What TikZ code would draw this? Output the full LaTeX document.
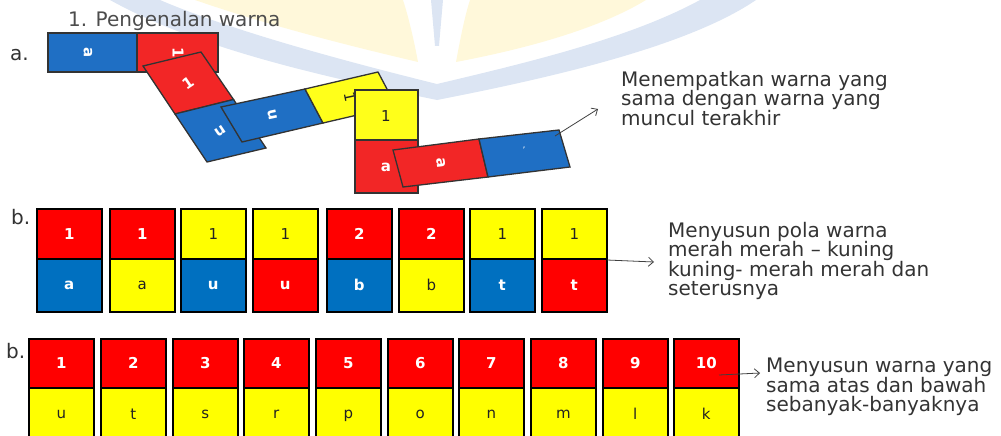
\documentclass[tikz,border=0pt]{standalone}
\usepackage{fontspec}
\setmainfont{DejaVu Sans}
\usetikzlibrary{arrows.meta}
\definecolor{dred}{HTML}{FF0000}
\definecolor{dblue}{HTML}{0070C0}
\definecolor{dyel}{HTML}{FFFF00}
\definecolor{ared}{HTML}{F22626}
\definecolor{ablue}{HTML}{1F6FC4}
\definecolor{ayel}{HTML}{FFFF1A}
\definecolor{wmblue}{HTML}{DCE5F3}
\definecolor{wmyel}{HTML}{FFF8DA}
\definecolor{txt}{HTML}{333333}
\definecolor{dark}{HTML}{222222}
\begin{document}
\begin{tikzpicture}[x=1pt,y=-1pt,
  cell/.style={draw=black,line width=1.6pt,minimum width=65pt,inner sep=0pt,anchor=north west,font=\fontsize{15}{17}\selectfont},
  wlab/.style={text=white,inner sep=0pt,font=\fontsize{15}{17}\selectfont\bfseries},
  dlab/.style={text=dark,inner sep=0pt,font=\fontsize{15}{17}\selectfont},
  desc/.style={text=txt,font=\fontsize{20}{19.5}\selectfont,align=left,anchor=north west,inner sep=0pt},
  lbl/.style={text=txt,font=\fontsize{20}{20}\selectfont,anchor=base west,inner sep=0pt},
  aface/.style={draw=black!80,line width=1.3pt},
  link/.style={draw=black!75,line width=0.8pt,-{Straight Barb[length=5pt,width=9pt]}}
]
\clip (0,0) rectangle (1001,436);
% faint watermark
\fill[wmblue] (110,0) .. controls (200,50) and (330,78) .. (437,100) -- (437,84) .. controls (340,60) and (230,30) .. (160,0) -- cycle;
\fill[wmyel] (195,0) .. controls (270,26) and (350,46) .. (418,62) .. controls (414,40) and (408,15) .. (403,0) -- cycle;
\fill[wmblue] (437,100) .. controls (560,76) and (690,45) .. (756,0) -- (700,0) .. controls (630,38) and (530,62) .. (437,84) -- cycle;
\fill[wmyel] (470,0) -- (646,0) .. controls (600,28) and (530,48) .. (456,62) .. controls (460,40) and (465,15) .. (470,0) -- cycle;
\fill[wmblue] (431,0) -- (443,0) -- (439,46) -- (435,46) -- cycle;

% part a
\node[lbl,text=black!70] (title) at (68,27) {1. Pengenalan warna};
\node[lbl] (la) at (10,60) {a.};
\filldraw[aface,fill=ablue] (48,33) rectangle (137,72);
\filldraw[aface,fill=ared] (137,33) rectangle (218,72);
\node[wlab,rotate=-90] (h1) at (88,53) {a};
\node[wlab,rotate=-90] (h2) at (178,53) {1};
\filldraw[aface,fill=ared] (143,66) -- (201,52) -- (233.5,99.5) -- (175,114) -- cycle;
\filldraw[aface,fill=ablue] (175,114) -- (233.5,99.5) -- (266,148) -- (207,162) -- cycle;
\node[wlab,rotate=34] (p1) at (188,83) {1};
\node[wlab,rotate=34] (p2) at (220,131) {u};
\filldraw[aface,fill=ablue] (221,107) -- (305,89) -- (323,123) -- (242,142) -- cycle;
\filldraw[aface,fill=ayel] (305,89) -- (378,72) -- (396,106) -- (323,123) -- cycle;
\node[wlab,rotate=-78] (q1) at (273,115) {u};
\node[dlab,rotate=-78] (q2) at (350,97) {1};
\filldraw[aface,fill=ayel] (355,90) rectangle (418,140);
\filldraw[aface,fill=ared] (355,140) rectangle (418,193);
\node[dlab] (v1) at (386,116) {1};
\node[wlab] (v2) at (386,167) {a};
\filldraw[aface,fill=ared] (393,150) -- (479,139) -- (488,177) -- (403,187) -- cycle;
\filldraw[aface,fill=ablue] (479,139) -- (559,130) -- (570,167) -- (488,177) -- cycle;
\node[wlab,rotate=-83] (s1) at (441,163) {a};
\node[wlab,font=\fontsize{9}{10}\selectfont] (s2) at (524,150) {'};
\coordinate (aS) at (555,136);
\coordinate (aE) at (598,109);
\draw[link] (aS) -- (aE);
\node[desc] (da) at (621,71) {Menempatkan warna yang\\sama dengan warna yang\\muncul terakhir};

% part b, row 1
\node[lbl] (lb1) at (11,224) {b.};
\foreach \i/\x/\tc/\bc/\tl/\bl/\tt/\bt/\tw/\bw in {
  1/36/dred/dblue/1/a/white/white/\bfseries/\bfseries,
  2/109/dred/dyel/1/a/white/dark/\bfseries/\mdseries,
  3/180/dyel/dblue/1/u/dark/white/\mdseries/\bfseries,
  4/252/dyel/dred/1/u/dark/white/\mdseries/\bfseries,
  5/326/dred/dblue/2/b/white/white/\bfseries/\bfseries,
  6/398/dred/dyel/2/b/white/dark/\bfseries/\mdseries,
  7/469/dyel/dblue/1/t/dark/white/\mdseries/\bfseries,
  8/541/dyel/dred/1/t/dark/white/\mdseries/\bfseries}{
  \node[cell,fill=\tc,text=\tt,minimum height=50pt] (r\i t) at (\x,208) {\tw\tl};
  \node[cell,fill=\bc,text=\bt,minimum height=53pt] (r\i b) at (\x,258) {\bw\bl};
}
\coordinate (bS) at (607,260);
\coordinate (bE) at (654,262);
\draw[link] (bS) -- (bE);
\node[desc] (db) at (668,222) {Menyusun pola warna\\merah merah -- kuning\\kuning- merah merah dan\\seterusnya};

% part b, row 2
\node[lbl] (lb2) at (6,358) {b.};
\foreach \i/\x/\tl/\bl in {1/28/1/u,2/100/2/t,3/172/3/s,4/243/4/r,5/315/5/p,6/387/6/o,7/458/7/n,8/530/8/m,9/602/9/l,10/673/10/k}{
  \node[cell,fill=dred,text=white,minimum height=49pt] (s\i t) at (\x,338) {\bfseries\tl};
  \node[cell,fill=dyel,text=dark,minimum height=60pt] (s\i b) at (\x,387) {\raisebox{8pt}{\bl}};
}
\coordinate (cS) at (719,375);
\coordinate (cE) at (760,373);
\draw[link] (cS) -- (cE);
\node[desc] (dc) at (766,358) {Menyusun warna yang\\sama atas dan bawah\\sebanyak-banyaknya};
\end{tikzpicture}
\end{document}
